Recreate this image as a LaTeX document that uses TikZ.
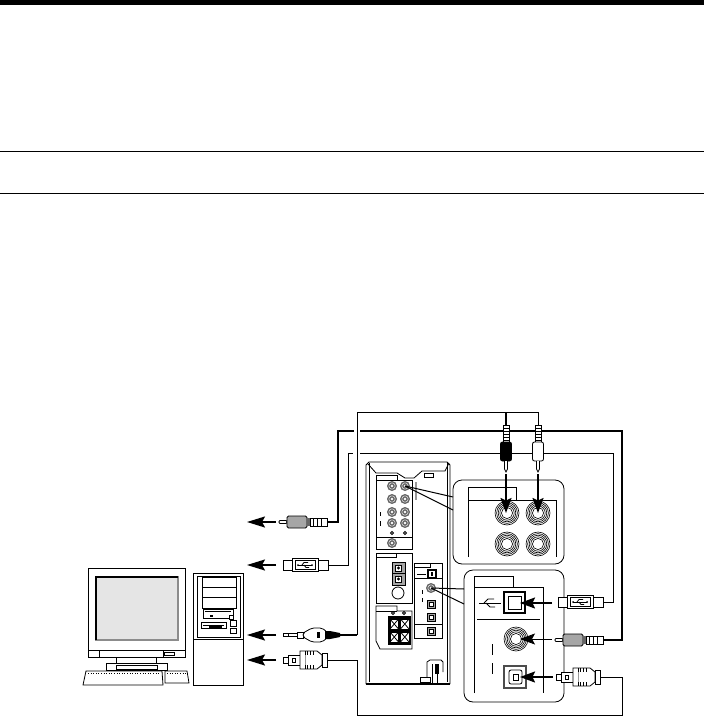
\documentclass[tikz,border=0pt]{standalone}
\usepackage{tikz}
\usetikzlibrary{arrows.meta,calc}

\tikzset{
  line/.style={draw=black, line width=0.8pt},
  thinwire/.style={draw=black, line width=1pt},
  thickwire/.style={draw=black, line width=2.2pt},
  linkarrow/.style={draw=black, line width=1.8pt, -{Stealth[length=15pt,width=11pt,inset=2.5pt]}},
  paneledge/.style={draw=black, line width=0.8pt, rounded corners=9pt, fill=white},
  plugbody/.style={draw=black, line width=0.8pt, fill=white},
}

% small jack on the rear view
\newcommand{\smalljack}[2]{
  \fill[black!60] (#1,#2) circle (5);
  \draw[white, line width=0.4pt] (#1,#2) circle (3.2);
  \fill[white] (#1,#2) circle (1.3);
}
% large jack in the enlarged panels
\newcommand{\bigjack}[2]{
  \foreach \r in {12,10.4,8.8,7.2,5.6} {
    \draw[draw=black, line width=0.6pt, fill=white] (#1,#2) circle (\r);
  }
}
% ribbed grip of a plug
\newcommand{\ribs}[4]{
  \foreach \t in {0,0.25,0.5,0.75} {
    \draw[line width=0.7pt] ($(#1,#2)!\t!(#3,#2)$) -- ($(#1,#4)!\t!(#3,#4)$);
  }
}
% usb plug, left end at (x,y)
\newcommand{\usbplug}[2]{
  \begin{scope}[shift={(#1,#2)}]
    \draw[plugbody] (0,-5) rectangle (45,5);
    \draw[plugbody, line width=1pt] (9,-6.5) rectangle (35,6.5);
    \draw[line] (12,-4.5) rectangle (32,4.5);
    \draw[line] (15,0) -- (29,0);
    \draw[line] (19,0) -- (21,-2.5) -- (25,-2.5);
    \draw[line] (21,0) -- (23,2.5) -- (26,2.5);
    \fill (15,0) circle (1);
    \fill (29,0) circle (1);
  \end{scope}
}
% mono mini plug, tip at (x,y)
\newcommand{\miniplug}[2]{
  \begin{scope}[shift={(#1,#2)}]
    \draw[plugbody, rounded corners=1pt] (0,-1.5) rectangle (8,1.5);
    \draw[plugbody, fill=black!35, rounded corners=1.5pt] (8,-6) rectangle (28,6);
    \fill[black!60] (28,-4) rectangle (31,4);
    \draw[plugbody] (31,-4) rectangle (48,4);
    \ribs{31}{-4}{46}{4}
  \end{scope}
}
% optical plug, tip at (x,y)
\newcommand{\optiplug}[2]{
  \begin{scope}[shift={(#1,#2)}]
    \draw[plugbody] (0,-3) rectangle (5,3);
    \draw[plugbody] (5,-5) rectangle (17,5);
    \draw[line] (9,-2) rectangle (12,2);
    \draw[plugbody] (17,-9) -- (34,-9) -- (39,-5) -- (39,5) -- (34,9) -- (17,9) -- cycle;
    \draw[plugbody] (39,-7) rectangle (44,7);
    \ribs{22}{-9}{33}{-5}
    \ribs{22}{5}{33}{9}
    \draw[black!40] (22,-5) -- (22,5);
  \end{scope}
}

\begin{document}
\begin{tikzpicture}[x=1pt,y=-1pt]
  \useasboundingbox (0,0) rectangle (704,727);

  % Rules of the page
  \fill[black] (0,0) rectangle (704,5);
  \draw[line] (0,151) -- (704,151);
  \draw[line] (0,193) -- (704,193);

  % Monitor
  \draw[line] (88,568) rectangle (185,657);
  \draw[line] (88,650) -- (185,650);
  \draw[line] (99,650) -- (99,657);
  \draw[line] (163,650) -- (163,657);
  \draw[line] (164,652) rectangle (174,655);
  \fill[black!10] (95,576) rectangle (178,640);
  \draw[black!45, line width=1.4pt] (178,576) -- (178,640) -- (95,640);
  \draw[black, line width=2pt] (96,640) -- (96,577) -- (178,577);
  \draw[line] (116,657) rectangle (156,663);
  \draw[line] (106,663) rectangle (167,670);
  \draw[line] (116,665.5) rectangle (157,669.5);

  % Keyboard
  \draw[line] (86,671) -- (83,685) -- (163,685) -- (162,671) -- cycle;
  \draw[line] (165,671) -- (187,671) -- (189,683) -- (165,683) -- cycle;
  \draw[line width=0.6pt, dotted] (88,673) -- (160,673);
  \draw[line width=0.6pt, dotted] (167,673) -- (186,673);

  % Tower
  \draw[line] (193,573) rectangle (243,685);
  \draw[line] (193,639) -- (243,639);
  \draw[line, line width=1pt] (197,576) rectangle (240,637);
  \foreach \top/\bot in {577/587, 587/597, 597/608} {
    \draw[line] (202,\top) rectangle (236,\bot);
  }
  \draw[line] (203,609) rectangle (233,618);
  \fill[black] (205,611) rectangle (231,612);
  \fill[black] (210,615) rectangle (213,617);
  \draw[line] (201,622) rectangle (226,628);
  \fill[black] (203,624.5) rectangle (224,625.5);
  \fill[black] (209,626) rectangle (222,628);
  \foreach \top/\bot in {620/626, 628/633} {
    \draw[line, fill=white] (230,\top) rectangle (236,\bot);
  }
  \draw[line, fill=white] (229,615) rectangle (233,619);

  % Rear view of the unit
  \draw[line] (366,684) -- (366,465) -- (369,462) -- (447,462) -- (450,465) -- (450,684);
  \draw[line] (369,682) -- (369,463);
  \draw[line] (447,682) -- (447,463);
  \draw[black, line width=1.6pt] (366,684) -- (450,684);
  \draw[line] (368,464) -- (376,473) -- (397,473) -- (405,478) -- (414,478) -- (422,471) -- (445,471) -- (449,463);
  \draw[line] (424,473) rectangle (433,477);

  % Input panel
  \draw[line] (376,475) -- (376,549) -- (412,549) -- (412,480) -- (397,480) -- (397,475) -- cycle;
  \draw[line] (376,480) -- (397,480);
  \draw[line] (376,537) -- (412,537);
  \foreach \x/\y in {392/486, 405/486, 392/499, 405/499, 392/512, 405/512, 392/523, 405/523, 392/543} {
    \smalljack{\x}{\y}
  }
  \foreach \x in {392,405} {
    \draw[line] (\x,533) circle (1.5);
  }
  \draw[black!40, line width=1.2pt] (416,482) -- (416,500);
  \draw[line] (381,512) -- (380,512) -- (380,516);
  \draw[line] (380,521) -- (380,525) -- (381,525);

  % Speaker panel
  \draw[line] (376,553) rectangle (412,603);
  \draw[line] (376,557) -- (396,557) -- (396,553);
  \draw[line, fill=black!35] (392,562) rectangle (405,585);
  \draw[line] (392,573.5) -- (405,573.5);
  \foreach \y in {568,579} {
    \draw[line, fill=white] (395.5,\y-3) rectangle (401.5,\y+3);
    \draw[line] (398.5,\y) circle (1);
  }
  \draw[line] (398,593) circle (6);

  % Terminal panel
  \draw[line] (376,606) -- (376,641) -- (380,649) -- (412,649) -- (412,611) -- (397,611) -- (397,606) -- cycle;
  \draw[line] (376,611) -- (397,611);
  \foreach \x in {393,404} {
    \draw[line] (\x,613) circle (1.5);
  }
  \fill[black] (388,616) rectangle (411,645);
  \foreach \x/\y in {390/619, 400.5/619, 390/632, 400.5/632} {
    \draw[line, fill=white] (\x,\y) rectangle (\x+8.5,\y+10);
    \draw[line] (\x,\y) -- (\x+8.5,\y+10);
    \draw[line] (\x+8.5,\y) -- (\x,\y+10);
  }

  % Digital panel
  \draw[line] (414,563) rectangle (442,638);
  \draw[line] (414,567) -- (430,567) -- (430,563);
  \draw[line] (414,578) -- (442,578);
  \draw[line] (414,624) -- (442,624);
  \draw[line] (417,574) -- (426,574);
  \draw[black, line width=1.6pt, fill=white] (428,570) rectangle (436,578);
  \fill[black] (431,572) rectangle (433,576);
  \smalljack{431}{588}
  \draw[line] (422,590) -- (422,594);
  \draw[line] (422,598) -- (422,602);
  \foreach \y in {604,617,631} {
    \draw[line, fill=black!35] (427,\y-4) rectangle (435,\y+4);
    \draw[line, fill=white] (429,\y-2) rectangle (433,\y+2);
  }

  % Power cord
  \draw[line] (427,677) -- (427,662) -- (430,660) -- (441,660) -- (443,662) -- (443,672);
  \fill[black] (435,664) rectangle (439,674);
  \draw[line] (432,664) -- (432,684);
  \draw[line] (437,674) -- (437,684);
  \draw[line] (420,677) rectangle (430,682);

  % Enlarged input panel
  \draw[paneledge] (453,480) rectangle (564,564);
  \draw[line] (468,557) -- (468,487) -- (516,487) -- (516,500);
  \draw[line] (468,500) -- (556,500) -- (556,557);
  \foreach \x/\y in {507/513, 538/513, 507/544, 538/544} {
    \bigjack{\x}{\y}
  }

  % Enlarged digital panel
  \draw[paneledge] (464,570) rectangle (564,702);
  \draw[line] (474,693) -- (474,576) -- (513,576) -- (513,587);
  \draw[line] (474,587) -- (543,587) -- (543,693);
  \draw[line] (477,619) -- (540,619);
  \draw[line] (479,603) -- (501,603);
  \draw[line] (484,603) -- (488,599) -- (494,599);
  \draw[line] (486,603) -- (490,607) -- (495,607);
  \draw[black, line width=2pt, fill=white] (504,592) rectangle (525,613);
  \draw[line] (508,596) -- (521,596) -- (521,609) -- (508,609) -- cycle;
  \bigjack{516}{639}
  \draw[line] (492,644) -- (492,655);
  \draw[line] (492,663) -- (492,674);
  \draw[line, line width=1.2pt, draw=black!70, fill=white] (504,666) rectangle (526,688);
  \draw[line, rounded corners=2pt] (509,670) rectangle (522,684);
  \draw[line] (513,674) rectangle (518,680);

  % Leader lines from the rear view
  \coordinate (ledA) at (405,486);
  \coordinate (ledB) at (431,588);
  \coordinate (panA1) at (453,497);
  \coordinate (panA2) at (453,510);
  \coordinate (panB1) at (464,589);
  \coordinate (panB2) at (464,604);
  \foreach \a/\b in {ledA/panA1, ledA/panA2, ledB/panB1, ledB/panB2} {
    \draw[line, line width=1pt] (\a) -- (\b);
  }

  % Connector ends and corners
  \foreach \name/\x/\y in {
    miniL/327/522, miniLa/338/431, miniLb/354/431, gapA/360/431,
    cornA/622/431, miniR/603/640,
    usbL/328/565, usbLa/348/453, usbLb/353/453, gapB/360/453,
    cornB/613/453, usbR/603/602,
    stereoL/340/635, frameA/357/635, frameB/357/412, frameC/538/412, blackTop/506/412, whiteTop/538/425, blackPlug/506/425,
    optL/327/660, frameD/357/715, frameE/622/715, optR/600/677} {
    \coordinate (\name) at (\x,\y);
  }

  % Wires
  \draw[thickwire] (miniL) -| (miniLa) -- (miniLb);
  \draw[thickwire] (gapA) -- (cornA) |- (miniR);
  \draw[thinwire] (usbL) -| (usbLa) -- (usbLb);
  \draw[thinwire] (gapB) -- (cornB) |- (usbR);
  \draw[thickwire] (stereoL) -- (frameA);
  \draw[thinwire] (frameA) -- (frameB) -- (frameC) -- (whiteTop);
  \draw[thickwire] (blackTop) -- (blackPlug);
  \draw[thinwire] (optL) -| (frameD) -- (frameE) |- (optR);

  % Plugs on the computer side
  \miniplug{279}{522}
  \usbplug{283}{565}
  \optiplug{283}{660}
  \draw[plugbody] (283,633.5) rectangle (297,636.5);
  \draw[line] (288,633.5) -- (288,636.5);
  \draw[plugbody] (297,632) rectangle (303,638);
  \draw[plugbody, rounded corners=2pt] (303,633) -- (312,628) -- (322,628) -- (327,632) -- (327,638) -- (322,642) -- (312,642) -- (303,637) -- cycle;
  \fill[black] (317,632) rectangle (320,638);
  \fill[black] (325,631) -- (330,631) -- (340,633) -- (340,637) -- (330,639) -- (325,639) -- cycle;

  % Plugs on the enlarged side
  \usbplug{558}{602}
  \miniplug{555}{640}
  \optiplug{556}{677}
  \foreach \x/\tone in {506/black, 538/white} {
    \draw[plugbody] (\x-3,425) rectangle (\x+3,442);
    \foreach \y in {428,431,434,437,440} {
      \draw[line] (\x-3,\y) -- (\x+3,\y);
    }
    \draw[plugbody, fill=\tone, rounded corners=2pt] (\x-5.5,442) rectangle (\x+5.5,461);
    \draw[plugbody] (\x-1.5,461) -- (\x-1.5,469) -- (\x,472) -- (\x+1.5,469) -- (\x+1.5,461);
  }

  % Arrows to the computer
  \foreach \y in {522,565,635,660} {
    \coordinate (outS\y) at (276,\y);
    \coordinate (outT\y) at (247,\y);
    \draw[linkarrow, -{Stealth[length=18pt,width=11pt,inset=3pt]}] (outS\y) -- (outT\y);
  }

  % Arrows into the panels
  \coordinate (inTa) at (506,474);
  \coordinate (inHa) at (506,513);
  \coordinate (inTb) at (538,474);
  \coordinate (inHb) at (538,513);
  \coordinate (inTc) at (552,603);
  \coordinate (inHc) at (520,603);
  \coordinate (inTd) at (552,639);
  \coordinate (inHd) at (520,639);
  \coordinate (inTe) at (553,677);
  \coordinate (inHe) at (520,677);
  \foreach \s/\t in {inTa/inHa, inTb/inHb, inTc/inHc, inTe/inHe} {
    \draw[linkarrow] (\s) -- (\t);
  }
  \draw[line width=0.8pt, -{Stealth[length=15pt,width=11pt,inset=3pt]}] (inTd) -- (inHd);
\end{tikzpicture}
\end{document}
